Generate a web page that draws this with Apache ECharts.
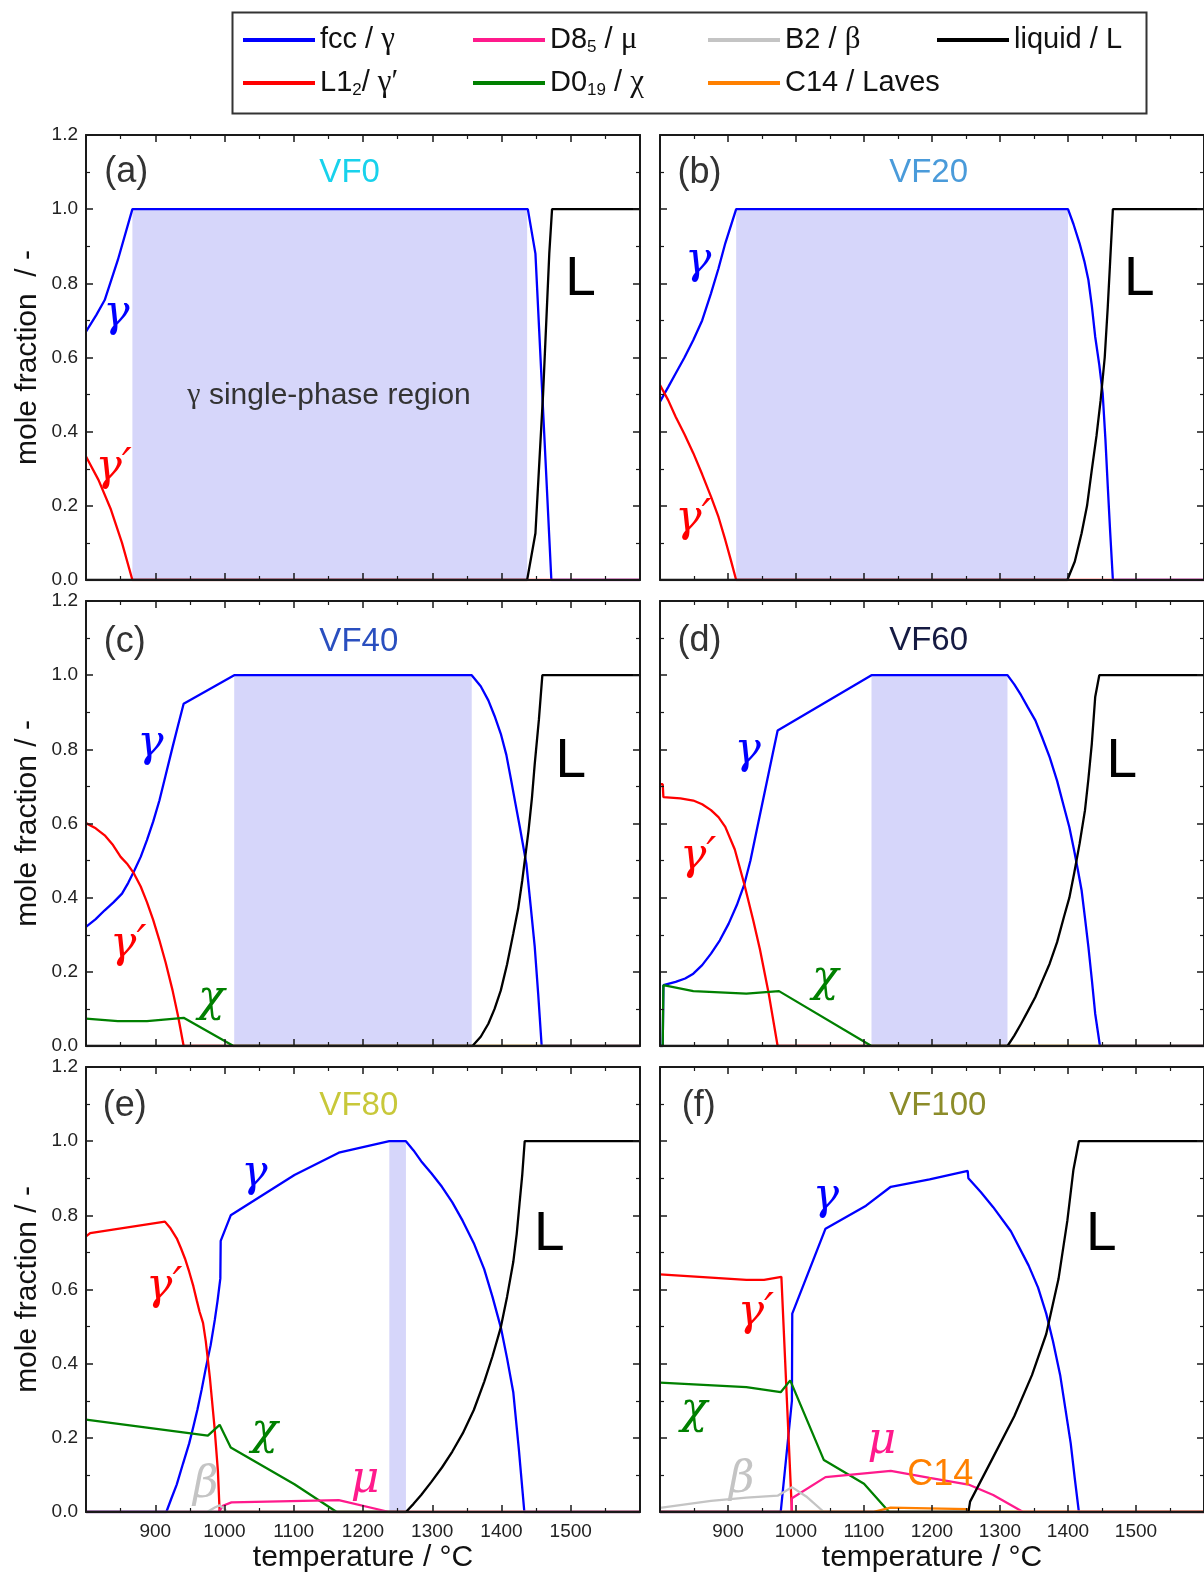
<!DOCTYPE html>
<html>
<head>
<meta charset="utf-8">
<script src="https://cdn.jsdelivr.net/npm/echarts@6/dist/echarts.min.js"></script>
<style>
  html, body { margin: 0; padding: 0; background: #fff; }
  #chart { width: 1204px; height: 1576px; }
</style>
</head>
<body>
<div id="chart"></div>
<script>
// Equilibrium phase fractions: [temperature / °C, mole fraction]

// VF0
const vf0_fcc = [[800,0.67],[815,0.715],[827,0.755],[846,0.863],[867,1.0],[1438,1.0],[1449,0.88],[1472,0],[1600,0]];
const vf0_L12 = [[800,0.333],[818,0.27],[836,0.19],[852,0.1],[867,0],[1600,0]];
const vf0_liquid = [[800,0],[1437,0],[1449,0.126],[1460,0.5],[1469,0.88],[1473,1.0],[1600,1.0]];
const vf0_single = [867, 1437];

// VF20
const vf20_fcc = [[800,0.481],[812,0.52],[823,0.557],[836,0.6],[849,0.647],[862,0.7],[875,0.773],[886,0.84],[896,0.908],[912,1.0],[1400,1.0],[1408,0.96],[1417,0.908],[1424,0.86],[1430,0.809],[1435,0.74],[1440,0.656],[1446,0.58],[1451,0.503],[1455,0.38],[1458.5,0.252],[1462,0.13],[1466,0],[1600,0]];
const vf20_L12 = [[800,0.526],[812,0.485],[823,0.44],[836,0.393],[849,0.342],[862,0.285],[875,0.225],[886,0.17],[896,0.108],[904,0.055],[912,0],[1600,0]];
const vf20_liquid = [[800,0],[1399,0],[1410,0.05],[1420,0.126],[1428,0.2],[1435,0.297],[1442,0.39],[1448,0.485],[1454,0.6],[1458.5,0.737],[1462,0.86],[1466,1.0],[1600,1.0]];
const vf20_single = [912, 1400];

// VF40
const vf40_fcc = [[800,0.321],[814,0.342],[827,0.366],[840,0.388],[852,0.411],[861,0.44],[870,0.474],[879,0.51],[888,0.555],[897,0.605],[906,0.662],[915,0.73],[925,0.806],[933,0.865],[941,0.923],[1014,1.0],[1357,1.0],[1370,0.97],[1381,0.932],[1390,0.89],[1399,0.842],[1407,0.785],[1414,0.716],[1420,0.655],[1426.5,0.59],[1436,0.49],[1442,0.38],[1448,0.267],[1453,0.14],[1458,0],[1600,0]];
const vf40_L12 = [[800,0.601],[814,0.587],[827,0.568],[839,0.542],[850,0.51],[860,0.49],[869,0.466],[879,0.43],[888,0.388],[897,0.34],[906,0.285],[915,0.225],[925,0.15],[933,0.08],[941,0],[1600,0]];
const vf40_D019 = [[800,0.074],[846,0.067],[888,0.067],[941,0.076],[1013,0],[1600,0]];
const vf40_liquid = [[800,0],[1358,0],[1370,0.025],[1381,0.06],[1390,0.1],[1399,0.15],[1408,0.22],[1417,0.303],[1424,0.37],[1430,0.447],[1439,0.58],[1444,0.67],[1448,0.761],[1454,0.88],[1459,1.0],[1600,1.0]];
const vf40_single = [1014, 1357];

// VF60
const vf60_fcc = [[800,0],[804,0],[805,0.164],[823,0.173],[837,0.182],[849,0.195],[862,0.218],[875,0.249],[888,0.285],[901,0.33],[913,0.38],[924,0.436],[933,0.5],[942,0.58],[950,0.65],[958,0.72],[966,0.79],[973,0.851],[1111,1.0],[1311,1.0],[1321,0.975],[1331,0.946],[1341,0.913],[1352,0.878],[1362,0.832],[1373,0.779],[1384,0.715],[1394,0.645],[1402,0.59],[1409,0.528],[1415,0.47],[1420,0.42],[1425,0.345],[1430,0.267],[1435,0.18],[1440,0.087],[1447,0],[1600,0]];
const vf60_L12 = [[800,0.706],[804,0.706],[805,0.671],[830,0.668],[849,0.662],[862,0.652],[875,0.636],[886,0.617],[896,0.591],[910,0.53],[924,0.436],[937,0.34],[947,0.26],[960,0.14],[973,0],[1600,0]];
const vf60_D019 = [[800,0],[804,0],[805,0.164],[849,0.148],[927,0.141],[975,0.148],[1111,0],[1600,0]];
const vf60_liquid = [[800,0],[1311,0],[1321,0.028],[1331,0.06],[1341,0.094],[1352,0.132],[1362,0.175],[1373,0.222],[1384,0.28],[1394,0.348],[1402,0.4],[1409,0.465],[1417,0.545],[1425,0.636],[1430,0.72],[1435,0.815],[1440,0.941],[1446,1.0],[1600,1.0]];
const vf60_single = [1111, 1311];

// VF80
const vf80_fcc = [[800,0],[916,0],[923,0.035],[931,0.074],[940,0.13],[949,0.185],[955,0.23],[961,0.277],[967,0.33],[973,0.388],[980,0.45],[986,0.518],[990,0.57],[994,0.63],[994.5,0.731],[1009,0.8],[1101,0.909],[1165,0.969],[1238,1.0],[1262,1.0],[1273,0.975],[1284,0.946],[1299,0.913],[1314,0.877],[1329,0.835],[1344,0.785],[1360,0.725],[1375,0.655],[1387,0.58],[1399,0.498],[1408,0.415],[1417,0.323],[1425,0.17],[1433,0],[1600,0]];
const vf80_L12 = [[800,0.743],[806,0.752],[914,0.783],[922,0.765],[931,0.738],[937,0.712],[943,0.683],[949,0.648],[955,0.609],[960,0.57],[964,0.54],[969,0.51],[973,0.46],[976,0.41],[979,0.36],[982,0.3],[985.5,0.23],[988,0.17],[990.5,0.11],[993,0],[1600,0]];
const vf80_D019 = [[800,0.249],[976,0.206],[993,0.235],[1009,0.174],[1101,0.075],[1162,0],[1600,0]];
const vf80_D85 = [[800,0],[991.6,0],[997.7,0.017],[1010,0.026],[1165,0.032],[1238,0],[1600,0]];
const vf80_B2 = [[800,0],[975,0],[986,0.012],[993,0.018],[999,0.01],[1004,0],[1600,0]];
const vf80_liquid = [[800,0],[1262,0],[1273,0.022],[1284,0.046],[1299,0.082],[1314,0.12],[1329,0.163],[1344,0.212],[1360,0.275],[1375,0.351],[1387,0.42],[1399,0.498],[1408,0.58],[1417,0.674],[1422,0.75],[1426,0.831],[1430,0.91],[1433.5,1.0],[1600,1.0]];
const vf80_single = [1238, 1262];

// VF100
const vf100_fcc = [[800,0],[977.5,0],[994,0.3],[994.5,0.535],[1043.4,0.764],[1103,0.826],[1139.4,0.877],[1196.5,0.897],[1252.5,0.92],[1253.5,0.9],[1272,0.862],[1290,0.822],[1316,0.757],[1342,0.665],[1356,0.605],[1368,0.535],[1378,0.46],[1388.5,0.369],[1396,0.28],[1404,0.185],[1410,0.09],[1416,0],[1600,0]];
const vf100_L12 = [[800,0.641],[927,0.626],[953,0.626],[978.5,0.634],[994,0],[1600,0]];
const vf100_D019 = [[800,0.349],[927,0.337],[977.5,0.323],[991.5,0.355],[1041,0.14],[1100,0.076],[1137,0],[1600,0]];
const vf100_D85 = [[800,0],[993.5,0],[994,0.037],[1043.4,0.094],[1139.4,0.111],[1196.5,0.092],[1253.6,0.074],[1290,0.046],[1334,0],[1600,0]];
const vf100_B2 = [[800,0.011],[875,0.03],[927,0.039],[973,0.044],[994,0.067],[1015,0.042],[1041,0],[1600,0]];
const vf100_C14 = [[800,0],[1113,0],[1139,0.012],[1252,0.008],[1253,0],[1600,0]];
const vf100_liquid = [[800,0],[1253.6,0],[1256,0.028],[1290,0.148],[1321,0.258],[1347,0.369],[1368,0.48],[1386,0.628],[1399,0.785],[1408,0.923],[1416,1.0],[1600,1.0]];

// Axis ticks
const tempTicks = [800, 1600, 100];
const fracTicks = [0, 1.2, 0.2];

// Phases, drawing order and legend text
const PHASES = [
  { key: 'fcc',    color: '#0000FF', legend: '{t|fcc / }{g|γ}' },
  { key: 'L12',    color: '#FF0000', legend: '{t|L1}{s|2}{t|/ }{g|γ′}' },
  { key: 'D019',   color: '#008000', legend: '{t|D0}{s|19}{t| / }{g|χ}' },
  { key: 'D85',    color: '#FF1A8C', legend: '{t|D8}{s|5}{t| / }{g|μ}' },
  { key: 'B2',     color: '#C4C4C4', legend: '{t|B2 / }{g|β}' },
  { key: 'C14',    color: '#FF8000', legend: '{t|C14 / Laves}' },
  { key: 'liquid', color: '#000000', legend: '{t|liquid / L}' }
];
const PHASE = Object.fromEntries(PHASES.map(p => [p.key, p]));

const panels = [
  { tag: '(a)', title: 'VF0',   titleColor: '#18D2EC', phases: { fcc: vf0_fcc, L12: vf0_L12, liquid: vf0_liquid }, single: vf0_single },
  { tag: '(b)', title: 'VF20',  titleColor: '#4A9BDA', phases: { fcc: vf20_fcc, L12: vf20_L12, liquid: vf20_liquid }, single: vf20_single },
  { tag: '(c)', title: 'VF40',  titleColor: '#2A4FBF', phases: { fcc: vf40_fcc, L12: vf40_L12, D019: vf40_D019, liquid: vf40_liquid }, single: vf40_single },
  { tag: '(d)', title: 'VF60',  titleColor: '#151A42', phases: { fcc: vf60_fcc, L12: vf60_L12, D019: vf60_D019, liquid: vf60_liquid }, single: vf60_single },
  { tag: '(e)', title: 'VF80',  titleColor: '#C8C83A', phases: { fcc: vf80_fcc, L12: vf80_L12, D019: vf80_D019, D85: vf80_D85, B2: vf80_B2, liquid: vf80_liquid }, single: vf80_single },
  { tag: '(f)', title: 'VF100', titleColor: '#8C8C2A', phases: { fcc: vf100_fcc, L12: vf100_L12, D019: vf100_D019, D85: vf100_D85, B2: vf100_B2, C14: vf100_C14, liquid: vf100_liquid }, single: null }
];

// In-plot annotations: [temperature, fraction, text, style]
const annotations = [
  [[858,1.099,'(a)','tag'],[1137,1.098,'VF0','title'],[844,0.715,'γ','fcc'],[840,0.301,'γ′','L12'],[1514,0.809,'L','L'],[1151,0.498,'{g|γ} single-phase region','region']],
  [[858,1.098,'(b)','tag'],[1137,1.098,'VF20','title'],[856,0.859,'γ','fcc'],[849,0.162,'γ′','L12'],[1505,0.809,'L','L']],
  [[856,1.09,'(c)','tag'],[1137,1.09,'VF40','title'],[893,0.812,'γ','fcc'],[861,0.272,'γ′','L12'],[981,0.124,'χ','D019'],[1500,0.765,'L','L']],
  [[858,1.092,'(d)','tag'],[1137,1.092,'VF60','title'],[929,0.794,'γ','fcc'],[856,0.508,'γ′','L12'],[1043,0.178,'χ','D019'],[1479,0.765,'L','L']],
  [[856,1.095,'(e)','tag'],[1137,1.095,'VF80','title'],[1043,0.909,'γ','fcc'],[913,0.604,'γ′','L12'],[1058,0.213,'χ','D019'],[973,0.07,'β','B2'],[1203,0.084,'μ','D85'],[1469,0.747,'L','L']],
  [[857,1.095,'(f)','tag'],[1137,1.095,'VF100','title'],[1044,0.847,'γ','fcc'],[941,0.535,'γ′','L12'],[850,0.272,'χ','D019'],[1126,0.191,'μ','D85'],[1212,0.1,'C14','C14text'],[920,0.086,'β','B2'],[1449,0.747,'L','L']]
];

// Layout
const SANS = '"Liberation Sans", Arial, Helvetica, sans-serif';
const SERIF = '"Liberation Serif", "Times New Roman", serif';
const GREEK = '"DejaVu Serif", "Liberation Serif", serif';
const COL_LEFT = [86, 660];
const ROW_TOP = [135, 601, 1067];
const GRID_W = 554, GRID_H = 445;
const INK = '#1a1a1a';

function labelStyle(style, panel) {
  switch (style) {
    case 'tag':    return { fontFamily: SANS, fontSize: 36, color: '#333' };
    case 'title':  return { fontFamily: SANS, fontSize: 33, color: panel.titleColor, align: 'left' };
    case 'L':      return { fontFamily: SANS, fontSize: 55, color: '#000' };
    case 'region': return {
      fontFamily: SANS, fontSize: 30, color: '#333',
      rich: { g: { fontFamily: SERIF, fontSize: 30, color: '#333' } }
    };
    case 'C14text':return { fontFamily: SANS, fontSize: 36, color: PHASE.C14.color };
    default:       return { fontFamily: GREEK, fontStyle: 'italic', fontSize: 44, color: PHASE[style].color };
  }
}

const grid = [], xAxis = [], yAxis = [], series = [];

panels.forEach((panel, i) => {
  const row = Math.floor(i / 2), col = i % 2;
  grid.push({ left: COL_LEFT[col], top: ROW_TOP[row], width: GRID_W, height: GRID_H, containLabel: false });

  const lineCommon = { show: true, onZero: false, lineStyle: { color: INK, width: 2 } };
  const tickCommon = { show: true, inside: true, length: 7, lineStyle: { color: INK, width: 1.5 } };
  const minorCommon = { show: true, splitNumber: 2, length: 4, lineStyle: { color: INK, width: 1.2 } };

  ['bottom', 'top'].forEach(pos => {
    const isBottom = pos === 'bottom';
    xAxis.push({
      gridIndex: i, type: 'value', position: pos, z: 3,
      min: tempTicks[0], max: tempTicks[1], interval: tempTicks[2],
      axisLine: lineCommon, axisTick: tickCommon, minorTick: minorCommon,
      splitLine: { show: false },
      axisLabel: {
        show: isBottom && row === 2, showMinLabel: false, showMaxLabel: false,
        fontFamily: SANS, fontSize: 19, color: '#222', margin: 10,
        formatter: v => String(v)
      },
      name: isBottom && row === 2 ? 'temperature / °C' : '',
      nameLocation: 'middle', nameGap: 31,
      nameTextStyle: { fontFamily: SANS, fontSize: 30, color: '#111' }
    });
  });

  ['left', 'right'].forEach(pos => {
    const isLeft = pos === 'left';
    yAxis.push({
      gridIndex: i, type: 'value', position: pos, z: 3,
      min: fracTicks[0], max: fracTicks[1], interval: fracTicks[2],
      axisLine: lineCommon, axisTick: tickCommon, minorTick: minorCommon,
      splitLine: { show: false },
      axisLabel: {
        show: isLeft && col === 0, fontFamily: SANS, fontSize: 19, color: '#222', margin: 8,
        formatter: v => v.toFixed(1)
      },
      name: isLeft && col === 0 ? (i === 0 ? 'mole fraction  / -' : 'mole fraction / -') : '',
      nameLocation: 'middle', nameGap: 43,
      nameTextStyle: { fontFamily: SANS, fontSize: 30, color: '#111' }
    });
  });

  const xi = 2 * i, yi = 2 * i;

  // γ single-phase region
  if (panel.single) {
    series.push({
      type: 'line', xAxisIndex: xi, yAxisIndex: yi, data: [], z: 1, silent: true,
      markArea: {
        silent: true,
        itemStyle: { color: '#D6D6FA' },
        data: [[{ coord: [panel.single[0], 0] }, { coord: [panel.single[1], 1] }]]
      }
    });
  }

  PHASES.forEach(p => {
    const data = panel.phases[p.key];
    if (!data) return;
    series.push({
      type: 'line', name: p.key, xAxisIndex: xi, yAxisIndex: yi, data,
      showSymbol: false, symbol: 'none', z: 2, silent: true,
      lineStyle: { color: p.color, width: 2.3 },
      itemStyle: { color: p.color }
    });
  });

  series.push({
    type: 'scatter', xAxisIndex: xi, yAxisIndex: yi, symbolSize: 1, z: 4, silent: true,
    itemStyle: { color: 'rgba(0,0,0,0)', opacity: 1 },
    data: annotations[i].map(a => ({
      value: [a[0], a[1]],
      label: Object.assign({ show: true, position: 'inside', opacity: 1, formatter: a[2] }, labelStyle(a[3], panel))
    }))
  });
});

// Legend: four columns of two rows
const legendRich = {
  t: { fontFamily: SANS, fontSize: 29, lineHeight: 32, color: '#111' },
  g: { fontFamily: SERIF, fontSize: 31, lineHeight: 32, color: '#111' },
  s: { fontFamily: SANS, fontSize: 17, lineHeight: 8, verticalAlign: 'bottom', color: '#111' }
};
const legendCols = [
  { left: 243, keys: ['fcc', 'L12'] },
  { left: 473, keys: ['D85', 'D019'] },
  { left: 708, keys: ['B2', 'C14'] },
  { left: 937, keys: ['liquid'] }
];
const legend = legendCols.map(c => ({
  left: c.left, top: 24, orient: 'vertical', padding: 0, itemGap: 11,
  icon: 'rect', itemWidth: 72, itemHeight: 4, selectedMode: false,
  data: c.keys,
  formatter: name => PHASE[name].legend,
  textStyle: { fontFamily: SANS, fontSize: 29, lineHeight: 32, color: '#111', rich: legendRich }
}));

const chart = echarts.init(document.getElementById('chart'), null, { renderer: 'canvas' });
chart.setOption({
  animation: false,
  backgroundColor: '#fff',
  grid, xAxis, yAxis, series, legend,
  graphic: [{
    type: 'rect', left: 230, top: 10, silent: true,
    shape: { width: 914, height: 101 },
    style: { fill: 'none', stroke: '#333', lineWidth: 2 }
  }]
});
</script>
</body>
</html>
